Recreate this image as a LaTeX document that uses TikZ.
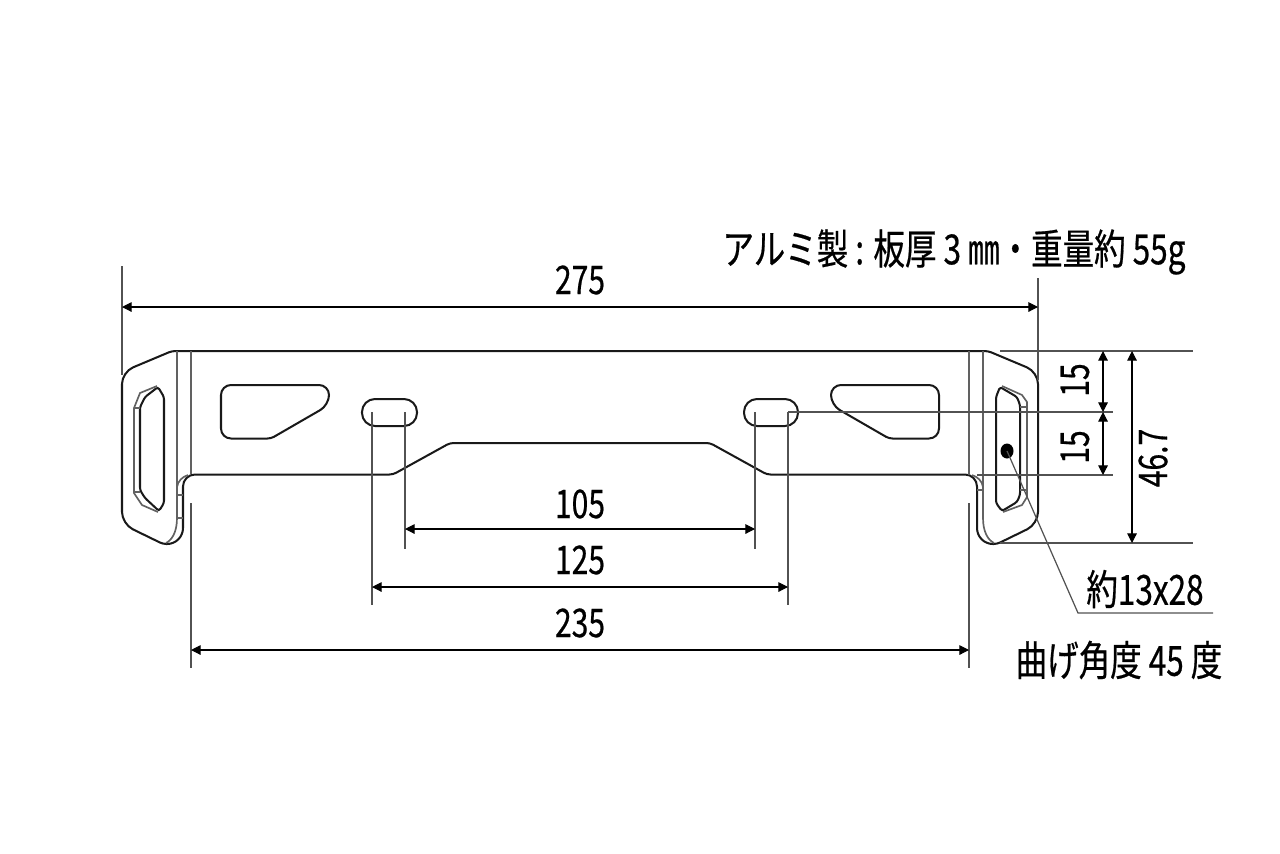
\documentclass[tikz,border=0pt]{standalone}
\usepackage{fontspec}
\setmainfont{Noto Sans CJK JP}[FakeStretch=0.76,FakeBold=0.5]
\usetikzlibrary{arrows.meta}

\begin{document}
\begin{tikzpicture}
[x=0.02cm,y=-0.02cm,%
  cornerTight/.style={rounded corners=0.07cm},%
  cornerHole/.style={rounded corners=0.2cm},%
  cornerRounded/.style={rounded corners=0.24cm},%
  cornerWide/.style={rounded corners=0.32cm},%
  plateOutline/.style={line width=1.15pt,black!90},%
  bendLine/.style={line width=0.95pt,black!62},%
  helperLine/.style={line width=0.7pt,black!68},%
  dimLine/.style={line width=0.6pt,{Triangle[length=5.5pt,width=5.5pt]}-{Triangle[length=5.5pt,width=5.5pt]}},%
  dimLabel/.style={inner sep=0pt,font=\fontsize{22.5}{25}\selectfont},%
  noteLabel/.style={inner sep=0pt,font=\fontsize{23.6}{26}\selectfont}]
\useasboundingbox (0,0) rectangle (1280,853);
%% end points of the dimension and helper lines
\foreach \nodename/\x/\y in {a1/122/266, a2/122/375, a3/1038/278, a4/1038/380,
  b1/191/503, b2/191/668, b3/969/503, b4/969/668,
  c1/372/412, c2/372/605, c3/405/412, c4/405/549,
  c5/755/412, c6/755/549, c7/788/412, c8/788/605,
  d1/1000/351, d2/1193/351, d3/1000/543, d4/1193/543,
  d5/1113/412, d6/977/475, d7/1113/475,
  e1/122/307, e2/1038/307, e3/191/650, e4/969/650,
  e5/405/529, e6/755/529, e7/372/587, e8/788/587,
  f1/1103/351, f2/1103/412, f3/1103/475, f4/1132/351, f5/1132/543,
  g1/1007/451, g2/1078/613, g3/1213/613}
{
  \coordinate (\nodename) at (\x,\y);
}
%% the outer edge of the plate
\draw[plateOutline] (580,351)[cornerTight] -- (172,351)[cornerRounded] -- (122,372) --
(122,524)[cornerTight] -- (163,544)[cornerWide] -- (183,544)[cornerRounded] --
(183,474.5)[cornerTight] -- (393,474.5) -- (450,443) -- (710,443) -- (767,474.5)
[cornerRounded] -- (977,474.5)[cornerWide] -- (977,544)[cornerTight] --
(997,544)[cornerRounded] -- (1038,524) -- (1038,372)[cornerTight] -- (988,351) -- (580,351);
%% the holes
\draw[plateOutline,cornerHole] (221,385) -- (329,385) -- (329,405)[cornerTight] --
(271,438.5)[cornerHole] -- (221,438.5) -- cycle;
\draw[plateOutline,cornerHole] (939,385) -- (831,385) -- (831,405)[cornerTight] --
(889,438.5)[cornerHole] -- (939,438.5) -- cycle;
\draw[plateOutline,rounded corners=0.26cm] (362,399) rectangle (417,426);
\draw[plateOutline,rounded corners=0.26cm] (744,399) rectangle (798,426);
%% the windows in the bent ends
\draw[plateOutline,rounded corners=0.05cm] (140,407) -- (145,397) -- (158,387) -- (164,397) --
(164,503) -- (159,511) -- (145,498) -- (140,490) -- cycle;
\draw[plateOutline,rounded corners=0.05cm] (1020,405) -- (1017,397) -- (1000,387) -- (996,397) --
(996,503) -- (1002,511) -- (1017,502) -- (1020,495) -- cycle;
\draw[bendLine] (157,386) -- (140,393) -- (134,408) -- (134,493) -- (142,505) -- (158,512);
\draw[bendLine] (1002,386) -- (1022,395) -- (1027,402) -- (1027,497) -- (1022,505) -- (1003,512);
\draw[bendLine] (134,408) -- (140,408);
\draw[bendLine] (134,492) -- (140,492);
\draw[bendLine] (1020,407) -- (1027,407);
\draw[bendLine] (1020,490) -- (1027,490);
%% the bend lines
\draw[bendLine] (177,351) -- (177,518) .. controls (177,532) and (172,540) .. (166,543);
\draw[bendLine] (191,351) -- (191,474);
\draw[bendLine] (969,351) -- (969,475);
\draw[bendLine] (983,351) -- (983,518) .. controls (983,532) and (988,540) .. (994,543);
\draw[bendLine] (177,487) .. controls (178,481) and (182,477) .. (188,475);
\draw[bendLine] (983,487) .. controls (982,481) and (978,477) .. (972,475);
\draw[bendLine] (177,495) -- (183,495);
\draw[bendLine] (177,518) -- (183,518);
\draw[bendLine] (977,490) -- (983,490);
%% helper lines
\draw[helperLine] (a1) -- (a2);
\draw[helperLine] (a3) -- (a4);
\draw[helperLine] (b1) -- (b2);
\draw[helperLine] (b3) -- (b4);
\draw[helperLine] (c1) -- (c2);
\draw[helperLine] (c3) -- (c4);
\draw[helperLine] (c5) -- (c6);
\draw[helperLine] (c7) -- (c8);
\draw[helperLine] (d1) -- (d2);
\draw[helperLine] (d3) -- (d4);
\draw[helperLine] (c7) -- (d5);
\draw[helperLine] (d6) -- (d7);
%% dimensions
\draw[dimLine] (e1) -- (e2);
\draw[dimLine] (e3) -- (e4);
\draw[dimLine] (e5) -- (e6);
\draw[dimLine] (e7) -- (e8);
\draw[dimLine] (f1) -- (f2);
\draw[dimLine] (f2) -- (f3);
\draw[dimLine] (f4) -- (f5);
%% the leader to the window
\fill (g1) ellipse [x radius=6.5,y radius=7.5];
\draw[helperLine] (g1) -- (g2) -- (g3);
%% labels
\node[dimLabel] (overallLabel) at (580,280) {275};
\node[dimLabel] (innerLabel) at (580,504) {105};
\node[dimLabel] (outerLabel) at (580,560) {125};
\node[dimLabel] (bendLabel) at (580,623) {235};
\node[dimLabel,rotate=90] (upperLabel) at (1075,380) {15};
\node[dimLabel,rotate=90] (lowerLabel) at (1075,447) {15};
\node[dimLabel,rotate=90] (heightLabel) at (1153,458) {46.7};
\node[noteLabel] (windowLabel) at (1145,589) {約13x28};
\node[noteLabel] (angleLabel) at (1119,660) {曲げ角度 45 度};
\node[noteLabel] (materialLabel) at (954,252) {アルミ製 : 板厚 3 ㎜・重量約 55g};
\end{tikzpicture}
\end{document}
